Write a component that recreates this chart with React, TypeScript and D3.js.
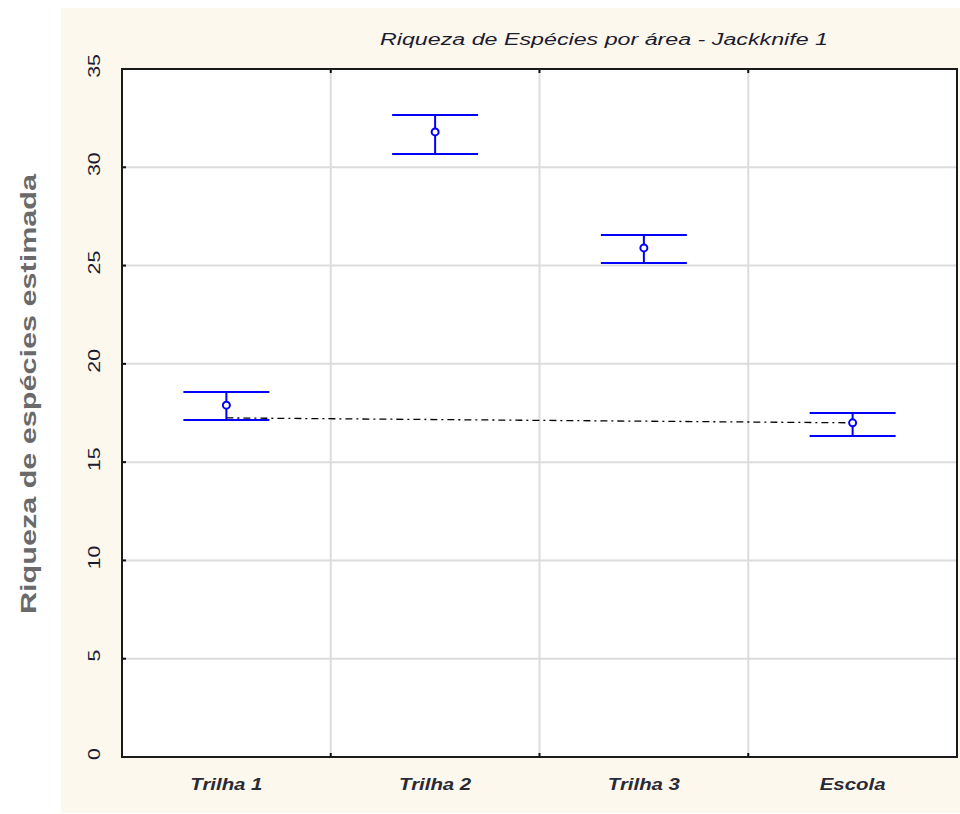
import * as d3 from 'd3';
import { useEffect, useRef } from 'react';

// values
const categories = ['Trilha 1', 'Trilha 2', 'Trilha 3', 'Escola'];
const means = [17.9, 31.8, 25.9, 17.0];
const upper = [18.57, 32.66, 26.56, 17.5];
const lower = [17.14, 30.68, 25.13, 16.33];
const yTicks = [0, 5, 10, 15, 20, 25, 30, 35];
// dash-dot reference line between first and last group
const refCats = ['Trilha 1', 'Escola'];
const refValues = [17.25, 17.0];

const title = 'Riqueza de Espécies por área - Jackknife 1';
const yTitle = 'Riqueza de espécies estimada';

function App() {
  const svgElement = useRef<SVGSVGElement | null>(null);

  const width = 960;
  const height = 814;
  const plot = { left: 122, top: 69, right: 957, bottom: 757 };
  const font = "'Liberation Sans', Arial, sans-serif";

  useEffect(() => {
    if (!svgElement.current) return;
    const svg = d3.select(svgElement.current);
    svg.selectAll('*').remove();

    const x = d3.scaleBand<string>().domain(categories).range([plot.left, plot.right]).padding(0);
    const y = d3.scaleLinear().domain([0, 35]).range([plot.bottom, plot.top]);
    const cx = (c: string) => (x(c) ?? 0) + x.bandwidth() / 2;

    // beige panel
    svg
      .append('rect')
      .attr('x', 61)
      .attr('y', 8)
      .attr('width', width - 61)
      .attr('height', height - 9)
      .attr('fill', '#fdf8ee');

    svg
      .append('rect')
      .attr('x', plot.left)
      .attr('y', plot.top)
      .attr('width', plot.right - plot.left)
      .attr('height', plot.bottom - plot.top)
      .attr('fill', '#fff');

    // grid
    const grid = svg.append('g').attr('stroke', '#dcdcdc').attr('stroke-width', 2);
    grid
      .selectAll('line.h')
      .data(yTicks.filter((t) => t > 0 && t < 35))
      .join('line')
      .attr('class', 'h')
      .attr('x1', plot.left)
      .attr('x2', plot.right)
      .attr('y1', (d) => y(d))
      .attr('y2', (d) => y(d));
    grid
      .selectAll('line.v')
      .data(categories.slice(1))
      .join('line')
      .attr('class', 'v')
      .attr('x1', (d) => x(d) ?? 0)
      .attr('x2', (d) => x(d) ?? 0)
      .attr('y1', plot.top)
      .attr('y2', plot.bottom);

    // tick marks
    const ticks = svg.append('g').attr('stroke', '#111').attr('stroke-width', 2);
    categories.slice(1).forEach((c) => {
      const xx = x(c) ?? 0;
      ticks.append('line').attr('x1', xx).attr('x2', xx).attr('y1', plot.top).attr('y2', plot.top + 4);
      ticks.append('line').attr('x1', xx).attr('x2', xx).attr('y1', plot.bottom).attr('y2', plot.bottom - 4);
    });
    yTicks
      .filter((t) => t > 0 && t < 35)
      .forEach((t) => {
        ticks.append('line').attr('x1', plot.left).attr('x2', plot.left + 4).attr('y1', y(t)).attr('y2', y(t));
      });

    // frame
    svg
      .append('rect')
      .attr('x', plot.left)
      .attr('y', plot.top)
      .attr('width', plot.right - plot.left)
      .attr('height', plot.bottom - plot.top)
      .attr('fill', 'none')
      .attr('stroke', '#1a1a1a')
      .attr('stroke-width', 2);

    // y tick labels, rotated
    svg
      .append('g')
      .selectAll('text')
      .data(yTicks)
      .join('text')
      .attr('transform', (d) => `translate(94,${y(d) - 3}) rotate(-90) scale(1.25,1)`)
      .attr('text-anchor', 'middle')
      .attr('dominant-baseline', 'central')
      .attr('font-family', font)
      .attr('font-size', 17)
      .attr('fill', '#1c1c30')
      .text((d) => d);

    // x labels
    svg
      .append('g')
      .selectAll('text')
      .data(categories)
      .join('text')
      .attr('transform', (d) => `translate(${cx(d)},790) scale(1.2,1)`)
      .attr('text-anchor', 'middle')
      .attr('font-family', font)
      .attr('font-size', 17)
      .attr('font-style', 'italic')
      .attr('font-weight', 'bold')
      .attr('fill', '#2a2a34')
      .text((d) => d);

    // reference dash-dot line
    const refLine = d3
      .line<number>()
      .x((_, i) => cx(refCats[i]))
      .y((d) => y(d));
    svg
      .append('path')
      .attr('d', refLine(refValues))
      .attr('fill', 'none')
      .attr('stroke', '#000')
      .attr('stroke-width', 1.3)
      .attr('stroke-dasharray', '7,4,2,4');

    // error bars
    const capHalf = 43;
    const bars = svg
      .append('g')
      .selectAll('g')
      .data(categories)
      .join('g')
      .attr('stroke', '#0000ff')
      .attr('stroke-width', 2)
      .attr('fill', 'none');
    bars
      .append('line')
      .attr('x1', (d) => cx(d))
      .attr('x2', (d) => cx(d))
      .attr('y1', (_, i) => y(lower[i]))
      .attr('y2', (_, i) => y(upper[i]));
    bars
      .append('line')
      .attr('x1', (d) => cx(d) - capHalf)
      .attr('x2', (d) => cx(d) + capHalf)
      .attr('y1', (_, i) => y(upper[i]))
      .attr('y2', (_, i) => y(upper[i]));
    bars
      .append('line')
      .attr('x1', (d) => cx(d) - capHalf)
      .attr('x2', (d) => cx(d) + capHalf)
      .attr('y1', (_, i) => y(lower[i]))
      .attr('y2', (_, i) => y(lower[i]));
    bars
      .append('circle')
      .attr('cx', (d) => cx(d))
      .attr('cy', (_, i) => y(means[i]))
      .attr('r', 3.5)
      .attr('fill', '#fff');

    // title
    svg
      .append('text')
      .attr('x', 604)
      .attr('y', 45)
      .attr('text-anchor', 'middle')
      .attr('font-family', font)
      .attr('font-size', 16)
      .attr('font-style', 'italic')
      .attr('fill', '#1c1c30')
      .attr('textLength', 448)
      .attr('lengthAdjust', 'spacingAndGlyphs')
      .text(title);

    // y axis title
    svg
      .append('text')
      .attr('transform', 'translate(36,394) rotate(-90)')
      .attr('text-anchor', 'middle')
      .attr('font-family', font)
      .attr('font-size', 22)
      .attr('font-weight', 'bold')
      .attr('fill', '#6a6a6a')
      .attr('textLength', 440)
      .attr('lengthAdjust', 'spacingAndGlyphs')
      .text(yTitle);
  }, []);

  return (
    <svg
      ref={svgElement}
      width={width}
      height={height}
      style={{ position: 'absolute', left: 0, top: 0, display: 'block', background: '#fff' }}
    />
  );
}

export default App;
